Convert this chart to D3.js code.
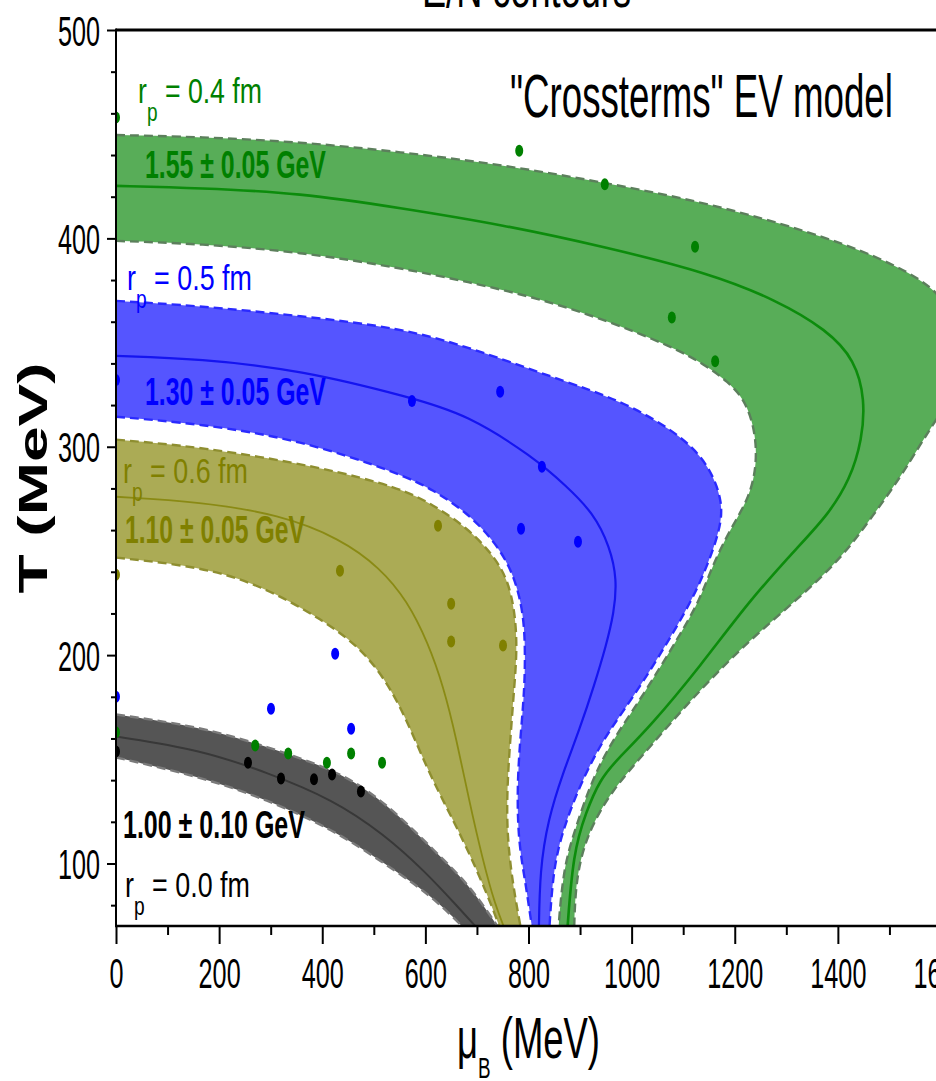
<!DOCTYPE html>
<html>
<head>
<meta charset="utf-8">
<script src="https://cdn.jsdelivr.net/npm/d3@7"></script>
<style>
  html, body { margin: 0; padding: 0; background: #fff; overflow: hidden; }
  svg { display: block; font-family: "Liberation Sans", Arial, sans-serif; }
</style>
</head>
<body>
<svg id="chart" width="936" height="1081"></svg>
<script>
// ---- E/N contour bands, points are [muB (MeV), T (MeV)] ----
// E/N = 1.55 +- 0.05 GeV, r_p = 0.4 fm
const band155Upper = [[0,449.6],[162.9,448.7],[356.9,446.3],[550.8,441.5],[750.6,435.3],[950.4,426.6],[1148.2,417.0],[1346.0,403.1],[1479.9,391.1],[1590.4,376.7],[1627.2,360.9],[1640.8,344.1],[1627.2,327.3],[1590.4,312.9],[1559.4,300.9],[1520.6,285.1],[1462.4,265.0],[1404.2,245.8],[1320.8,226.6],[1229.6,207.4],[1132.7,183.5],[1035.7,156.1],[958.1,134.1],[919.3,116.3],[899.9,101.9],[890.2,85.1],[888.3,65.9]];
const band155Center = [[0,425.2],[162.9,424.2],[356.9,421.8],[550.8,414.6],[750.6,406.5],[948.4,395.9],[1148.2,383.5],[1280.1,370.5],[1379.0,356.1],[1433.3,341.7],[1452.7,322.5],[1446.9,303.4],[1423.6,284.2],[1380.9,267.4],[1326.6,253.0],[1229.6,226.6],[1132.7,194.5],[1035.7,165.7],[971.7,149.9],[938.7,140.3],[912.0,125.0],[886.4,105.3],[874.7,65.9]];
const band155Lower = [[0,398.8],[162.9,397.4],[356.9,393.5],[550.8,385.9],[682.7,379.1],[816.5,371.5],[948.4,360.9],[1080.3,347.9],[1142.4,339.3],[1187.0,331.2],[1219.9,322.5],[1239.3,308.2],[1243.2,292.3],[1229.6,276.0],[1190.8,260.2],[1155.9,242.5],[1132.7,226.6],[1093.9,209.8],[1055.1,194.0],[1010.5,176.3],[963.9,159.5],[923.2,140.3],[890.2,116.3],[866.9,97.1],[857.2,65.9]];

// E/N = 1.30 +- 0.05 GeV, r_p = 0.5 fm
const band130Upper = [[0,370.0],[162.9,367.6],[356.9,362.8],[550.8,357.1],[682.7,347.9],[816.5,336.0],[919.3,327.3],[1002.7,319.2],[1099.7,304.8],[1152.1,290.4],[1177.3,273.2],[1171.5,260.2],[1146.3,242.5],[1117.2,226.6],[1078.4,209.8],[1039.6,194.0],[993.0,176.3],[944.5,159.5],[899.9,137.9],[866.9,116.3],[847.5,97.1],[839.8,65.9]];
const band130Center = [[0,343.6],[162.9,342.2],[356.9,336.9],[574.1,323.5],[680.8,315.4],[808.8,295.2],[874.7,280.8],[925.1,268.4],[958.1,252.0],[971.7,236.2],[966.0,220.4],[950.0,204.1],[928.0,186.0],[900.0,165.0],[866.0,143.0],[838.0,121.1],[822.0,97.1],[820.0,65.9]];
const band130Lower = [[0,314.4],[162.9,311.0],[356.9,303.4],[550.8,287.1],[614.8,279.4],[680.8,268.4],[731.2,255.4],[764.2,242.5],[783.6,228.1],[793.3,212.2],[793.3,188.3],[787.4,169.1],[777.8,140.3],[779.7,111.5],[793.3,92.3],[808.8,65.9]];

// E/N = 1.10 +- 0.05 GeV, r_p = 0.6 fm
const band110Upper = [[0,303.4],[162.9,300.0],[395.7,290.4],[550.8,280.3],[614.8,272.2],[680.8,261.2],[731.2,248.2],[760.0,236.2],[774.0,220.4],[778.0,202.6],[772.0,183.5],[766.1,164.3],[758.3,137.0],[758.3,113.0],[770.0,89.0],[787.4,65.9]];
const band110Center = [[0,276.0],[162.9,273.6],[318.1,267.4],[434.4,256.0],[512.0,242.0],[565.0,226.0],[605.0,206.0],[635.0,185.0],[660.0,160.0],[685.0,130.0],[710.0,103.0],[735.0,80.0],[758.3,65.9]];
const band110Lower = [[0,246.8],[162.9,242.5],[279.3,233.8],[401.5,217.0],[486.8,201.2],[550.8,177.2],[603.2,145.1],[653.6,121.1],[700.2,97.1],[739.0,73.2],[748.6,65.9]];

// E/N = 1.00 +- 0.10 GeV, r_p = 0.0 fm
const band100Upper = [[0,171.5],[162.9,165.7],[292.9,156.1],[420.9,145.1],[486.8,135.5],[550.8,122.6],[614.8,106.7],[680.8,90.9],[731.2,73.2],[750.6,65.9]];
const band100Center = [[0,160.9],[162.9,154.7],[292.9,143.7],[420.9,130.7],[520.0,114.0],[600.0,96.0],[660.0,80.0],[711.8,65.9]];
const band100Lower = [[0,150.9],[162.9,141.7],[292.9,130.7],[420.9,116.3],[517.8,100.5],[614.8,84.2],[686.6,65.9]];

// ---- freeze-out points ----
const pointsGreen = [[0,458],[782,442],[948,426],[1123,396],[1078,362],[1162,341],[0,163],[270,156.6],[334,152.8],[409,148.4],[456,152.8],[516,148.4]];
const pointsBlue = [[0,332],[574,322],[745,326.4],[826,290.4],[785.5,260.7],[896,254.4],[425,200.7],[300.6,174.3],[456,164.7],[0,180]];
const pointsOlive = [[0,238.6],[624.5,262.1],[434.4,240.5],[650,224.7],[650,206.5],[750.6,204.6]];
const pointsBlack = [[0,153.7],[256,148.4],[320,140.8],[384,140.4],[419,142.7],[475,134.5]];

// ---- axes ----
const xMajorTicks = [0, 200, 400, 600, 800, 1000, 1200, 1400, 1600];
const xMinorTicks = [100, 300, 500, 700, 900, 1100, 1300, 1500];
const yMajorTicks = [100, 200, 300, 400, 500];
const yMinorTicks = [80, 120, 140, 160, 180, 220, 240, 260, 280, 320, 340, 360, 380, 420, 440, 460, 480];

const svg = d3.select("#chart");
const pLeft = 116, pRight = 941, pTop = 30, pBottom = 926;

const x = d3.scaleLinear().domain([0, 1600]).range([pLeft, pRight]);
const y = d3.scaleLinear().domain([70, 500]).range([pBottom, pTop]);

svg.append("defs").append("clipPath").attr("id", "plotClip")
  .append("rect").attr("x", pLeft).attr("y", pTop)
  .attr("width", pRight - pLeft).attr("height", pBottom - pTop);

const plot = svg.append("g").attr("clip-path", "url(#plotClip)");

// smooth B-spline through the traced contour points
const curve = d3.line().x(d => x(d[0])).y(d => y(d[1])).curve(d3.curveBasis);

const bands = [
  { upper: band155Upper, center: band155Center, lower: band155Lower,
    fill: "#58ad58", line: "#0c8c0c", edge: "#5c7f5c", lw: 2.6 },
  { upper: band130Upper, center: band130Center, lower: band130Lower,
    fill: "#5555ff", line: "#1414f0", edge: "#2a2aff", lw: 2.2 },
  { upper: band110Upper, center: band110Center, lower: band110Lower,
    fill: "#abab55", line: "#8a8a14", edge: "#8e8e30", lw: 1.8 },
  { upper: band100Upper, center: band100Center, lower: band100Lower,
    fill: "#555555", line: "#383838", edge: "#7a7a7a", lw: 2.0 }
];

bands.forEach(b => {
  const outline = curve(b.upper) + curve(b.lower.slice().reverse()).replace(/^M/, "L") + "Z";
  plot.append("path").attr("d", outline).attr("fill", b.fill).attr("stroke", "none");
  [b.upper, b.lower].forEach(edge => {
    plot.append("path").attr("d", curve(edge)).attr("fill", "none")
      .attr("stroke", b.edge).attr("stroke-width", 2.4)
      .attr("stroke-dasharray", "9,5");
  });
  plot.append("path").attr("d", curve(b.center)).attr("fill", "none")
    .attr("stroke", b.line).attr("stroke-width", b.lw);
});

const pointSets = [
  { pts: pointsGreen, color: "#008000" },
  { pts: pointsBlue, color: "#0000ff" },
  { pts: pointsOlive, color: "#808000" },
  { pts: pointsBlack, color: "#000000" }
];
pointSets.forEach(s => {
  plot.selectAll(null).data(s.pts).enter().append("ellipse")
    .attr("cx", d => x(d[0])).attr("cy", d => y(d[1]))
    .attr("rx", 4).attr("ry", 6).attr("fill", s.color);
});

// ---- axes drawing ----
const xAxis = svg.append("g").attr("transform", `translate(0,${pBottom})`)
  .call(d3.axisBottom(x).tickValues(xMajorTicks).tickSize(18).tickFormat(d3.format("d")));
svg.append("g").attr("transform", `translate(0,${pBottom})`)
  .call(d3.axisBottom(x).tickValues(xMinorTicks).tickSize(9).tickFormat(""));
const yAxis = svg.append("g").attr("transform", `translate(${pLeft},0)`)
  .call(d3.axisLeft(y).tickValues(yMajorTicks).tickSize(9).tickFormat(d3.format("d")));
svg.append("g").attr("transform", `translate(${pLeft},0)`)
  .call(d3.axisLeft(y).tickValues(yMinorTicks).tickSize(5).tickFormat(""));

svg.selectAll(".domain").remove();
svg.selectAll(".tick line").attr("stroke", "#000").attr("stroke-width", 2);

xAxis.selectAll(".tick text")
  .attr("font-size", 42).attr("fill", "#000")
  .attr("y", 62).attr("dy", 0)
  .attr("transform", "scale(0.6,1)");
yAxis.selectAll(".tick text")
  .attr("font-size", 42).attr("fill", "#000")
  .attr("x", -16 / 0.6).attr("dy", "0.36em")
  .attr("transform", "scale(0.6,1)");
svg.selectAll(".tick text").attr("font-family", "'Liberation Sans', Arial, sans-serif");

// frame
svg.append("line").attr("x1", pLeft).attr("x2", pRight).attr("y1", pBottom).attr("y2", pBottom)
  .attr("stroke", "#000").attr("stroke-width", 2.6);
svg.append("line").attr("x1", pLeft).attr("x2", pRight).attr("y1", pTop).attr("y2", pTop)
  .attr("stroke", "#000").attr("stroke-width", 3);
svg.append("line").attr("x1", pLeft).attr("x2", pLeft).attr("y1", pTop - 1.5).attr("y2", pBottom + 1.3)
  .attr("stroke", "#000").attr("stroke-width", 2);
svg.append("line").attr("x1", pRight).attr("x2", pRight).attr("y1", pTop).attr("y2", pBottom)
  .attr("stroke", "#000").attr("stroke-width", 2);

// ---- text ----
// place a text so that it starts at (x0, baseline) and spans the given width
function fit(t, x0, baseline, width) {
  const w = t.node().getBBox().width;
  t.attr("transform", `translate(${x0},${baseline}) scale(${width / w},1)`);
}

function rpLabel(value, color, x0, baseline, width) {
  const t = svg.append("text").attr("font-size", 35).attr("fill", color);
  t.append("tspan").text("r");
  t.append("tspan").attr("font-size", 25).attr("dy", 18).text("p");
  t.append("tspan").attr("dy", -18).text(" = " + value + " fm");
  fit(t, x0, baseline, width);
}
function enLabel(str, color, x0, baseline, width) {
  const t = svg.append("text").attr("font-size", 39).attr("font-weight", "bold")
    .attr("fill", color).text(str);
  fit(t, x0, baseline, width);
}

rpLabel("0.4", "#008000", 138, 103, 124);
enLabel("1.55 \u00b1 0.05 GeV", "#008000", 145, 178, 181);
rpLabel("0.5", "#0000ff", 127, 290, 125);
enLabel("1.30 \u00b1 0.05 GeV", "#0000ff", 145, 405, 181);
rpLabel("0.6", "#808000", 123, 483, 125);
enLabel("1.10 \u00b1 0.05 GeV", "#808000", 125, 543, 180);
enLabel("1.00 \u00b1 0.10 GeV", "#000000", 123, 838, 182);
rpLabel("0.0", "#000000", 125, 897, 125);

const model = svg.append("text").attr("font-size", 61).attr("fill", "#000")
  .text("\"Crossterms\" EV model");
fit(model, 510, 117, 383);

const title = svg.append("text").attr("font-size", 56).attr("fill", "#000")
  .text("E/N contours");
fit(title, 422, 7, 209);

// x axis title: mu_B (MeV)
const xt = svg.append("text").attr("font-size", 58).attr("fill", "#000");
xt.append("tspan").text("\u03bc");
xt.append("tspan").attr("font-size", 30).attr("dy", 20).text("B");
xt.append("tspan").attr("dy", -20).text(" (MeV)");
fit(xt, 457, 1058, 143);

// y axis title: T (MeV)
svg.append("text").attr("font-size", 64).attr("font-weight", "bold").attr("fill", "#000")
  .attr("text-anchor", "middle")
  .attr("transform", "translate(47,478) scale(0.63,1) rotate(-90)")
  .text("T (MeV)");
</script>
</body>
</html>
